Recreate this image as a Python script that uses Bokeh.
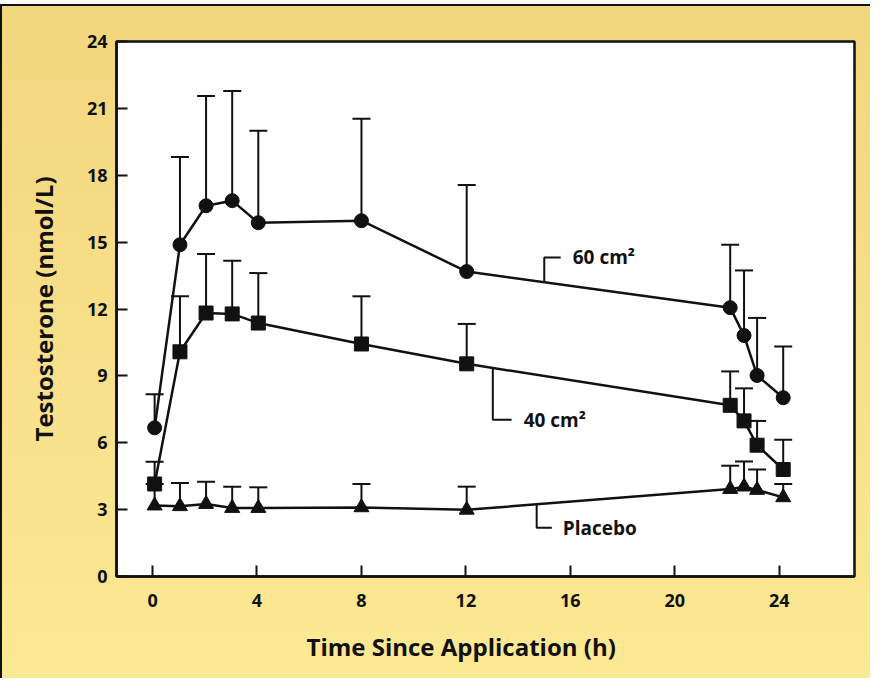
import numpy as np
from bokeh.plotting import figure
from bokeh.models import ColumnDataSource, Whisker, TeeHead, Label, FixedTicker, Range1d, Title
from bokeh.embed import file_html
from bokeh.resources import INLINE

# ---- data ----
hours = [0.08, 1.05, 2.05, 3.05, 4.05, 8.0, 12.03, 22.12, 22.65, 23.15, 24.15]
gel60_mean = [6.67, 14.88, 16.63, 16.86, 15.87, 15.96, 13.68, 12.06, 10.81, 9.02, 8.02]
gel60_upper = [8.18, 18.82, 21.56, 21.78, 20.0, 20.54, 17.56, 14.88, 13.73, 11.6, 10.32]
gel40_mean = [4.15, 10.08, 11.82, 11.78, 11.37, 10.43, 9.54, 7.68, 6.98, 5.89, 4.8]
gel40_upper = [5.15, 12.57, 14.47, 14.16, 13.61, 12.57, 11.33, 9.2, 8.44, 6.98, 6.13]
placebo_mean = [3.18, 3.15, 3.25, 3.07, 3.07, 3.1, 2.99, 3.92, 4.03, 3.88, 3.55]
placebo_upper = [4.15, 4.19, 4.25, 4.03, 4.0, 4.15, 4.03, 4.97, 5.16, 4.8, 4.15]
series_names = ["60 cm²", "40 cm²", "Placebo"]
x_ticks = [0, 4, 8, 12, 16, 20, 24]
y_ticks = [0, 3, 6, 9, 12, 15, 18, 21, 24]
x_title = "Time Since Application (h)"
y_title = "Testosterone (nmol/L)"

FONT = "Open Sans"
INK = "#111111"

p = figure(width=870, height=674, output_backend="svg", toolbar_location=None,
           x_range=Range1d(-1.38, 26.88), y_range=Range1d(0, 24))
p.min_border_left = 114
p.min_border_right = 18
p.min_border_top = 35
p.min_border_bottom = 104
p.styles = {"background": "linear-gradient(#f2d67e, #fce993)",
            "border-left": "2px solid #111", "border-top": "2px solid #111",
            "margin-top": "4px"}
p.border_fill_alpha = 0
p.background_fill_color = "white"
p.outline_line_color = INK
p.outline_line_width = 2.5
p.grid.visible = False

for ax in (p.xaxis[0], p.yaxis[0]):
    ax.axis_line_width = 2.5
    ax.axis_line_color = INK
    ax.major_tick_in = 11
    ax.major_tick_out = 0
    ax.major_tick_line_width = 2
    ax.major_tick_line_color = INK
    ax.minor_tick_line_color = None
    ax.major_label_text_font = FONT
    ax.major_label_text_font_style = "bold"
    ax.major_label_text_font_size = "18px"
    ax.major_label_text_color = INK
p.xaxis.ticker = FixedTicker(ticks=x_ticks)
p.yaxis.ticker = FixedTicker(ticks=y_ticks)
p.xaxis.major_label_standoff = 17
p.yaxis.major_label_standoff = 9
p.yaxis.axis_label = y_title
p.yaxis.axis_label_text_font = FONT
p.yaxis.axis_label_text_font_style = "bold"
p.yaxis.axis_label_text_font_size = "24px"
p.yaxis.axis_label_text_color = INK
p.yaxis.axis_label_standoff = 24

p.add_layout(Title(text=x_title, align="left", offset=190, standoff=36,
                   text_font=FONT, text_font_style="bold",
                   text_font_size="24px", text_color=INK), "below")

def series(mean, upper, marker, size):
    src = ColumnDataSource(dict(t=hours, m=mean, u=upper))
    w = Whisker(source=src, base="t", upper="u", lower="m", dimension="height",
                line_color=INK, line_width=2,
                upper_head=TeeHead(size=18, line_width=2, line_color=INK),
                lower_head=None)
    p.add_layout(w)
    p.line("t", "m", source=src, line_color=INK, line_width=2.5)
    p.scatter("t", "m", source=src, marker=marker, size=size,
              fill_color=INK, line_color=INK)

series(gel60_mean, gel60_upper, "circle", 14)
series(gel40_mean, gel40_upper, "square", 14)
series(placebo_mean, placebo_upper, "triangle", 15)

# callout leaders and series labels
callouts = [
    (gel60_mean, 15.0, 1.11, 15.63, 16.09),
    (gel40_mean, 13.03, -2.32, 13.75, 14.21),
    (placebo_mean, 14.71, -1.05, 15.29, 15.71),
]
for (mean, x0, dy, x1, xt), name in zip(callouts, series_names):
    y0 = float(np.interp(x0, hours, mean))
    y1 = y0 + dy
    p.line([x0, x0, x1], [y0, y1, y1], line_color=INK, line_width=2)
    p.add_layout(Label(x=xt, y=y1, text=name, text_align="left",
                       text_baseline="middle", text_font=FONT,
                       text_font_style="bold", text_font_size="19px",
                       text_color=INK))

open("out.html", "w").write(file_html(p, INLINE))
